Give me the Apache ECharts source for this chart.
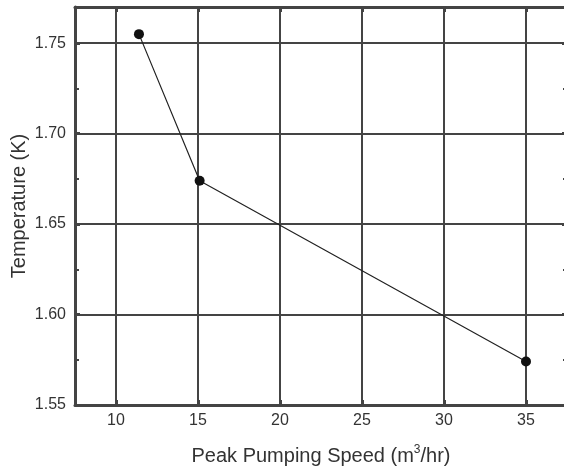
<!DOCTYPE html>
<html><head><meta charset="utf-8">
<script src="https://cdn.jsdelivr.net/npm/echarts@6/dist/echarts.min.js"></script>
<style>html,body{margin:0;padding:0;background:#fff}#c{width:564px;height:467px}</style>
</head><body><div id="c"></div>
<script>
const xValues = [11.4, 15.1, 35.0];
const tempValues = [1.755, 1.674, 1.574];
const xLabel = 'Peak Pumping Speed (m{sup|3}/hr)';
const yLabel = 'Temperature (K)';

const axisCol = '#444';
const font = 'Liberation Sans, Arial, sans-serif';
function xa(pos, labels) {
  return {
    type: 'value', position: pos, min: 7.5, max: 37.5, interval: 5,
    axisLine: {show: true, onZero: false, lineStyle: {color: axisCol, width: 3}},
    axisTick: {show: true, inside: true, length: 5, lineStyle: {color: axisCol, width: 3},
      customValues: [10, 15, 20, 25, 30, 35]},
    minorTick: {show: true, splitNumber: 2, length: 4, lineStyle: {color: axisCol, width: 2}},
    axisLabel: {show: labels, color: '#333', fontSize: 16, fontFamily: font, margin: 8,
      customValues: [10, 15, 20, 25, 30, 35]},
    splitLine: {show: labels, lineStyle: {color: axisCol, width: 2}},
    name: labels ? xLabel : '', nameLocation: 'middle', nameGap: 39, nameMoveOverlap: false,
    nameTextStyle: {color: '#333', fontSize: 20, fontFamily: font,
      rich: {sup: {fontSize: 12, verticalAlign: 'top', padding: [0, 0, 12, 0], color: '#333', fontFamily: font}}}
  };
}
function ya(pos, labels) {
  return {
    type: 'value', position: pos, min: 1.55, max: 1.77, interval: 0.05,
    axisLine: {show: true, onZero: false, lineStyle: {color: axisCol, width: 3}},
    axisTick: {show: true, inside: true, length: 5, lineStyle: {color: axisCol, width: 3},
      customValues: [1.55, 1.60, 1.65, 1.70, 1.75]},
    minorTick: {show: true, splitNumber: 2, length: 4, lineStyle: {color: axisCol, width: 2}},
    axisLabel: {show: labels, color: '#333', fontSize: 16, fontFamily: font, margin: 9,
      customValues: [1.55, 1.60, 1.65, 1.70, 1.75],
      formatter: v => v.toFixed(2)},
    splitLine: {show: labels, lineStyle: {color: axisCol, width: 2}},
    name: labels ? yLabel : '', nameLocation: 'middle', nameGap: 46, nameMoveOverlap: false,
    nameTextStyle: {color: '#333', fontSize: 20, fontFamily: font}
  };
}
const chart = echarts.init(document.getElementById('c'), null, {renderer: 'canvas'});
chart.setOption({
  animation: false,
  grid: {left: 75, width: 492, top: 7, height: 398, containLabel: false, outerBoundsMode: 'none'},
  xAxis: [xa('bottom', true), xa('top', false)],
  yAxis: [ya('left', true), ya('right', false)],
  series: [{
    type: 'line', xAxisIndex: 0, yAxisIndex: 0,
    data: xValues.map((x, i) => [x, tempValues[i]]),
    symbol: 'circle', symbolSize: 10,
    itemStyle: {color: '#111'},
    lineStyle: {color: '#222', width: 1.2}
  }]
});
</script></body></html>
